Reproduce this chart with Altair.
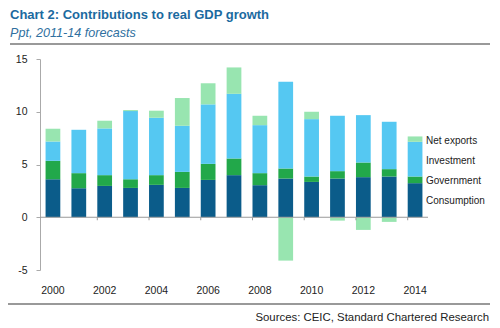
import altair as alt
import pandas as pd

years = list(range(2000, 2015))
consumption = [3.6, 2.75, 2.97, 2.78, 3.07, 2.78, 3.54, 3.99, 3.04, 3.67, 3.35, 3.67, 3.8, 3.86, 3.23]
government = [1.75, 1.43, 1.02, 0.82, 0.92, 1.52, 1.52, 1.58, 1.14, 0.95, 0.51, 0.7, 1.39, 0.7, 0.63]
investment = [1.83, 4.11, 4.43, 6.46, 5.44, 4.37, 5.64, 6.13, 4.55, 8.23, 5.44, 5.25, 4.49, 4.49, 3.29]
net_exports = [1.21, 0.0, 0.73, 0.1, 0.67, 2.63, 2.0, 2.5, 0.89, -4.11, 0.7, -0.32, -1.2, -0.44, 0.51]

series_names = ["Consumption", "Government", "Investment", "Net exports"]
series_values = [consumption, government, investment, net_exports]
colors = ["#0b5c8a", "#22a84a", "#55c8f2", "#98e5b0"]

TITLE = "Chart 2: Contributions to real GDP growth"
SUBTITLE = "Ppt, 2011-14 forecasts"
SOURCE = "Sources: CEIC, Standard Chartered Research"
FONT = "Liberation Sans"

rows = []
for k, (name, vals) in enumerate(zip(series_names, series_values)):
    for y, v in zip(years, vals):
        rows.append({"year": y, "series": name, "value": v, "order": k})
df = pd.DataFrame(rows)

W, H = 388, 211

xscale = alt.Scale(paddingInner=0.43, paddingOuter=0.215)
yscale = alt.Scale(domain=[-5, 15], nice=False)

bars = alt.Chart(df).mark_bar().encode(
    x=alt.X("year:O", scale=xscale, title=None,
            axis=alt.Axis(labelExpr="datum.value % 2 == 0 ? datum.label : ''",
                          labelAngle=0, ticks=False, domain=False, labelPadding=15,
                          labelFontSize=10.5, labelColor="#222", labelFont=FONT)),
    y=alt.Y("value:Q", stack="zero", scale=yscale, title=None,
            axis=alt.Axis(values=[-5, 0, 5, 10, 15], grid=False, tickSize=4,
                          labelExpr="'' + datum.value",
                          tickColor="#aaa", domainColor="#aaa", labelPadding=9,
                          labelFontSize=10.5, labelColor="#222", labelFont=FONT)),
    color=alt.Color("series:N",
                    scale=alt.Scale(domain=series_names[::-1], range=colors[::-1]),
                    legend=alt.Legend(title=None, orient="none", legendX=376, legendY=77,
                                      symbolSize=0, symbolStrokeWidth=0, labelOffset=0,
                                      rowPadding=10.1, labelFontSize=10, labelColor="#222",
                                      labelFont=FONT, labelLimit=200)),
    order=alt.Order("order:Q", sort="ascending"),
)

zero_df = pd.DataFrame({"v": [0]})
zero = alt.Chart(zero_df).mark_rule(color="#999", strokeWidth=1).encode(
    y=alt.Y("v:Q", scale=yscale), x=alt.value(0), x2=alt.value(W))

tick_df = pd.DataFrame({"year": [y for y in years if y % 2 == 0 and y != 2000]})
ticks = alt.Chart(tick_df).mark_rule(color="#999").encode(
    x=alt.X("year:O", scale=xscale, bandPosition=0),
    y=alt.value(H * 15 / 20), y2=alt.value(H * 15 / 20 + 3))

def text_layer(txt, x, y, **kw):
    return alt.Chart(pd.DataFrame({"t": [txt]})).mark_text(**kw).encode(
        text="t:N", x=alt.value(x), y=alt.value(y))

title = text_layer(TITLE, -30, -40, align="left", baseline="alphabetic", font=FONT,
                   fontSize=13, fontWeight="bold", color="#1b6aa0")
subtitle = text_layer(SUBTITLE, -30, -22, align="left", baseline="alphabetic", font=FONT,
                      fontSize=12.6, fontStyle="italic", color="#2f70a0")
source = text_layer(SOURCE, 449, 262, align="right", baseline="alphabetic", font=FONT,
                    fontSize=11.4, color="#222")

line_df = pd.DataFrame({"v": [0]})
top_line = alt.Chart(line_df).mark_rule(color="#777", strokeWidth=1.5).encode(
    x=alt.value(-30), x2=alt.value(450), y=alt.value(-15))
bottom_line = alt.Chart(line_df).mark_rule(color="#777", strokeWidth=1.5).encode(
    x=alt.value(-32), x2=alt.value(450), y=alt.value(245))

chart = alt.layer(bars, zero, ticks, title, subtitle, source, top_line, bottom_line).properties(
    width=W, height=H,
    autosize=alt.AutoSizeParams(type="none"),
    padding={"left": 40, "top": 59, "right": 72, "bottom": 58},
    background="white",
).configure_view(stroke=None)

chart.save("out.html", embed_options={"renderer": "svg", "actions": False})
